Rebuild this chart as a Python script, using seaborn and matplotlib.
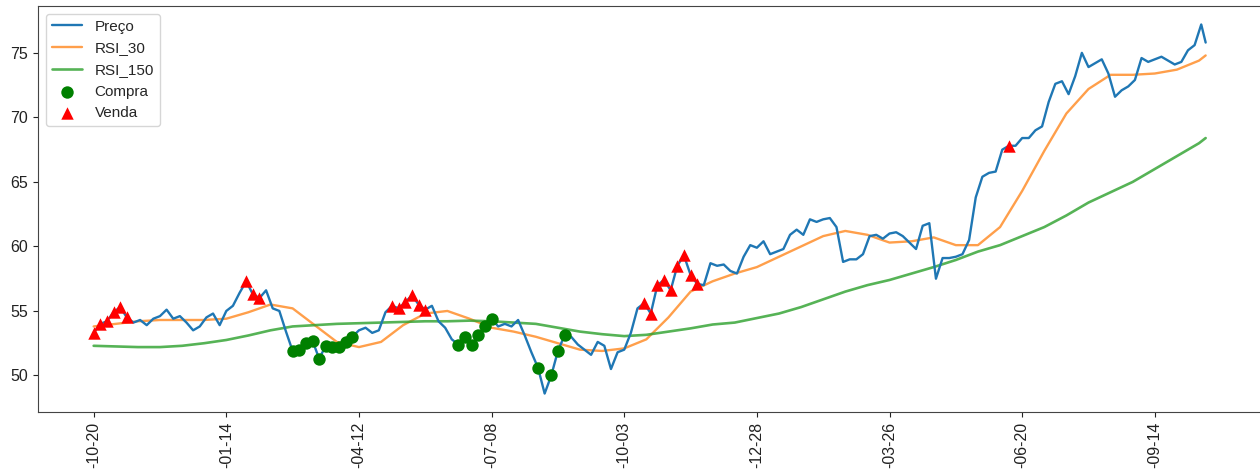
import matplotlib
matplotlib.use("Agg")
import matplotlib.pyplot as plt
import seaborn as sns
import pandas as pd

# Rótulos do eixo de datas (um a cada 60 pregões)
pregao_ticks = [0, 60, 120, 180, 240, 300, 360, 420, 480]
rotulos_datas = ["-10-20", "-01-14", "-04-12", "-07-08", "-10-03",
                 "-12-28", "-03-26", "-06-20", "-09-14"]

# Preço de fechamento (amostrado a cada 3 pregões)
dia_preco = list(range(0, 502, 3)) + [503]
preco = [
    53.3, 54.0, 54.2, 54.9, 55.3, 54.5, 54.1, 54.3, 53.9, 54.4,
    54.6, 55.1, 54.4, 54.6, 54.1, 53.5, 53.8, 54.5, 54.8, 53.9,
    55.0, 55.4, 56.4, 57.3, 56.3, 56.0, 56.6, 55.2, 55.0, 53.4,
    51.9, 52.0, 52.5, 52.7, 51.3, 52.3, 52.2, 52.2, 52.6, 53.0,
    53.5, 53.7, 53.3, 53.5, 54.9, 55.4, 55.2, 55.7, 56.2, 55.5,
    55.1, 55.4, 54.2, 53.7, 52.8, 52.4, 53.0, 52.4, 53.1, 53.8,
    54.4, 53.8, 54.0, 53.8, 54.3, 53.1, 51.8, 50.6, 48.6, 50.0,
    51.9, 53.1, 53.0, 52.4, 52.0, 51.6, 52.6, 52.3, 50.5, 51.8,
    52.0, 53.3, 55.2, 55.6, 54.8, 57.0, 57.4, 56.6, 58.5, 59.3,
    57.8, 57.1, 57.0, 58.7, 58.5, 58.6, 58.1, 57.9, 59.2, 60.1,
    59.9, 60.4, 59.4, 59.6, 59.8, 60.9, 61.3, 60.9, 62.1, 61.9,
    62.1, 62.2, 61.5, 58.8, 59.0, 59.0, 59.4, 60.8, 60.9, 60.6,
    61.0, 61.1, 60.8, 60.3, 59.8, 61.6, 61.8, 57.5, 59.1, 59.1,
    59.2, 59.4, 60.5, 63.8, 65.4, 65.7, 65.8, 67.5, 67.8, 67.8,
    68.4, 68.4, 69.0, 69.3, 71.2, 72.6, 72.8, 71.8, 73.2, 75.0,
    73.9, 74.2, 74.5, 73.4, 71.6, 72.1, 72.4, 72.9, 74.6, 74.3,
    74.5, 74.7, 74.4, 74.1, 74.3, 75.2, 75.6, 77.2, 75.8,
]

# Médias móveis (a cada 10 pregões)
dia_media = list(range(0, 501, 10)) + [503]
rsi_30 = [
    53.8, 54.0, 54.2, 54.3, 54.3, 54.3, 54.4, 54.9, 55.5, 55.2,
    53.9, 52.6, 52.2, 52.6, 53.9, 54.8, 55.0, 54.4, 53.7, 53.4,
    53.0, 52.5, 52.0, 51.9, 52.1, 52.8, 54.5, 56.5, 57.3, 57.9,
    58.4, 59.2, 60.0, 60.8, 61.2, 60.9, 60.3, 60.4, 60.7, 60.1,
    60.1, 61.5, 64.3, 67.4, 70.3, 72.2, 73.3, 73.3, 73.4, 73.7,
    74.4, 74.8,
]
rsi_150 = [
    52.3, 52.25, 52.2, 52.2, 52.3, 52.5, 52.75, 53.1, 53.5, 53.8,
    53.9, 54.0, 54.05, 54.1, 54.15, 54.2, 54.2, 54.25, 54.2, 54.1,
    54.0, 53.7, 53.4, 53.2, 53.05, 53.15, 53.4, 53.65, 53.95, 54.1,
    54.45, 54.8, 55.3, 55.9, 56.5, 57.0, 57.4, 57.9, 58.4, 58.95,
    59.6, 60.1, 60.8, 61.5, 62.4, 63.4, 64.2, 65.0, 66.0, 67.0,
    68.0, 68.4,
]

# Posições (na série de preço) dos sinais de compra e venda
compra_pos = [30, 31, 32, 33, 34, 35, 36, 37, 38, 39,
              55, 56, 57, 58, 59, 60, 67, 69, 70, 71]
venda_pos = [0, 1, 2, 3, 4, 5, 23, 24, 25,
             45, 46, 47, 48, 49, 50,
             83, 84, 85, 86, 87, 88, 89, 90, 91, 138]

df_preco = pd.DataFrame({"dia": dia_preco, "valor": preco})
df_media = pd.DataFrame({"dia": dia_media, "rsi30": rsi_30, "rsi150": rsi_150})
df_compra = df_preco.iloc[compra_pos]
df_venda = df_preco.iloc[venda_pos]

sns.set_style("ticks")
plt.rcParams["font.family"] = ["Liberation Sans", "DejaVu Sans"]
plt.rcParams["font.size"] = 11.5

fig = plt.figure(figsize=(12.6, 4.74), dpi=100)
ax = fig.add_axes([0.0302, 0.1308, 0.9708, 0.8565])

sns.lineplot(data=df_preco, x="dia", y="valor", color="#1f77b4",
             linewidth=1.7, label="Preço", ax=ax, zorder=3)
sns.lineplot(data=df_media, x="dia", y="rsi30", color="#ff7f0e", alpha=0.75,
             linewidth=1.7, label="RSI_30", ax=ax, zorder=2)
sns.lineplot(data=df_media, x="dia", y="rsi150", color="#2ca02c", alpha=0.8,
             linewidth=1.9, label="RSI_150", ax=ax, zorder=2)
sns.scatterplot(data=df_compra, x="dia", y="valor", marker="o", color="green",
                s=80, linewidth=0, label="Compra", ax=ax, zorder=4)
sns.scatterplot(data=df_venda, x="dia", y="valor", marker="^", color="red",
                s=80, linewidth=0, label="Venda", ax=ax, zorder=4)

ax.set_xticks(pregao_ticks)
ax.set_xticklabels(rotulos_datas, rotation=90)
ax.set_xlabel("")
ax.set_ylabel("")
for s in ax.spines.values():
    s.set_color("#444444")
ax.tick_params(colors="#222222", labelsize=11.5)
ax.legend(loc="upper left", fontsize=11)

fig.savefig("out.png", dpi=100)
